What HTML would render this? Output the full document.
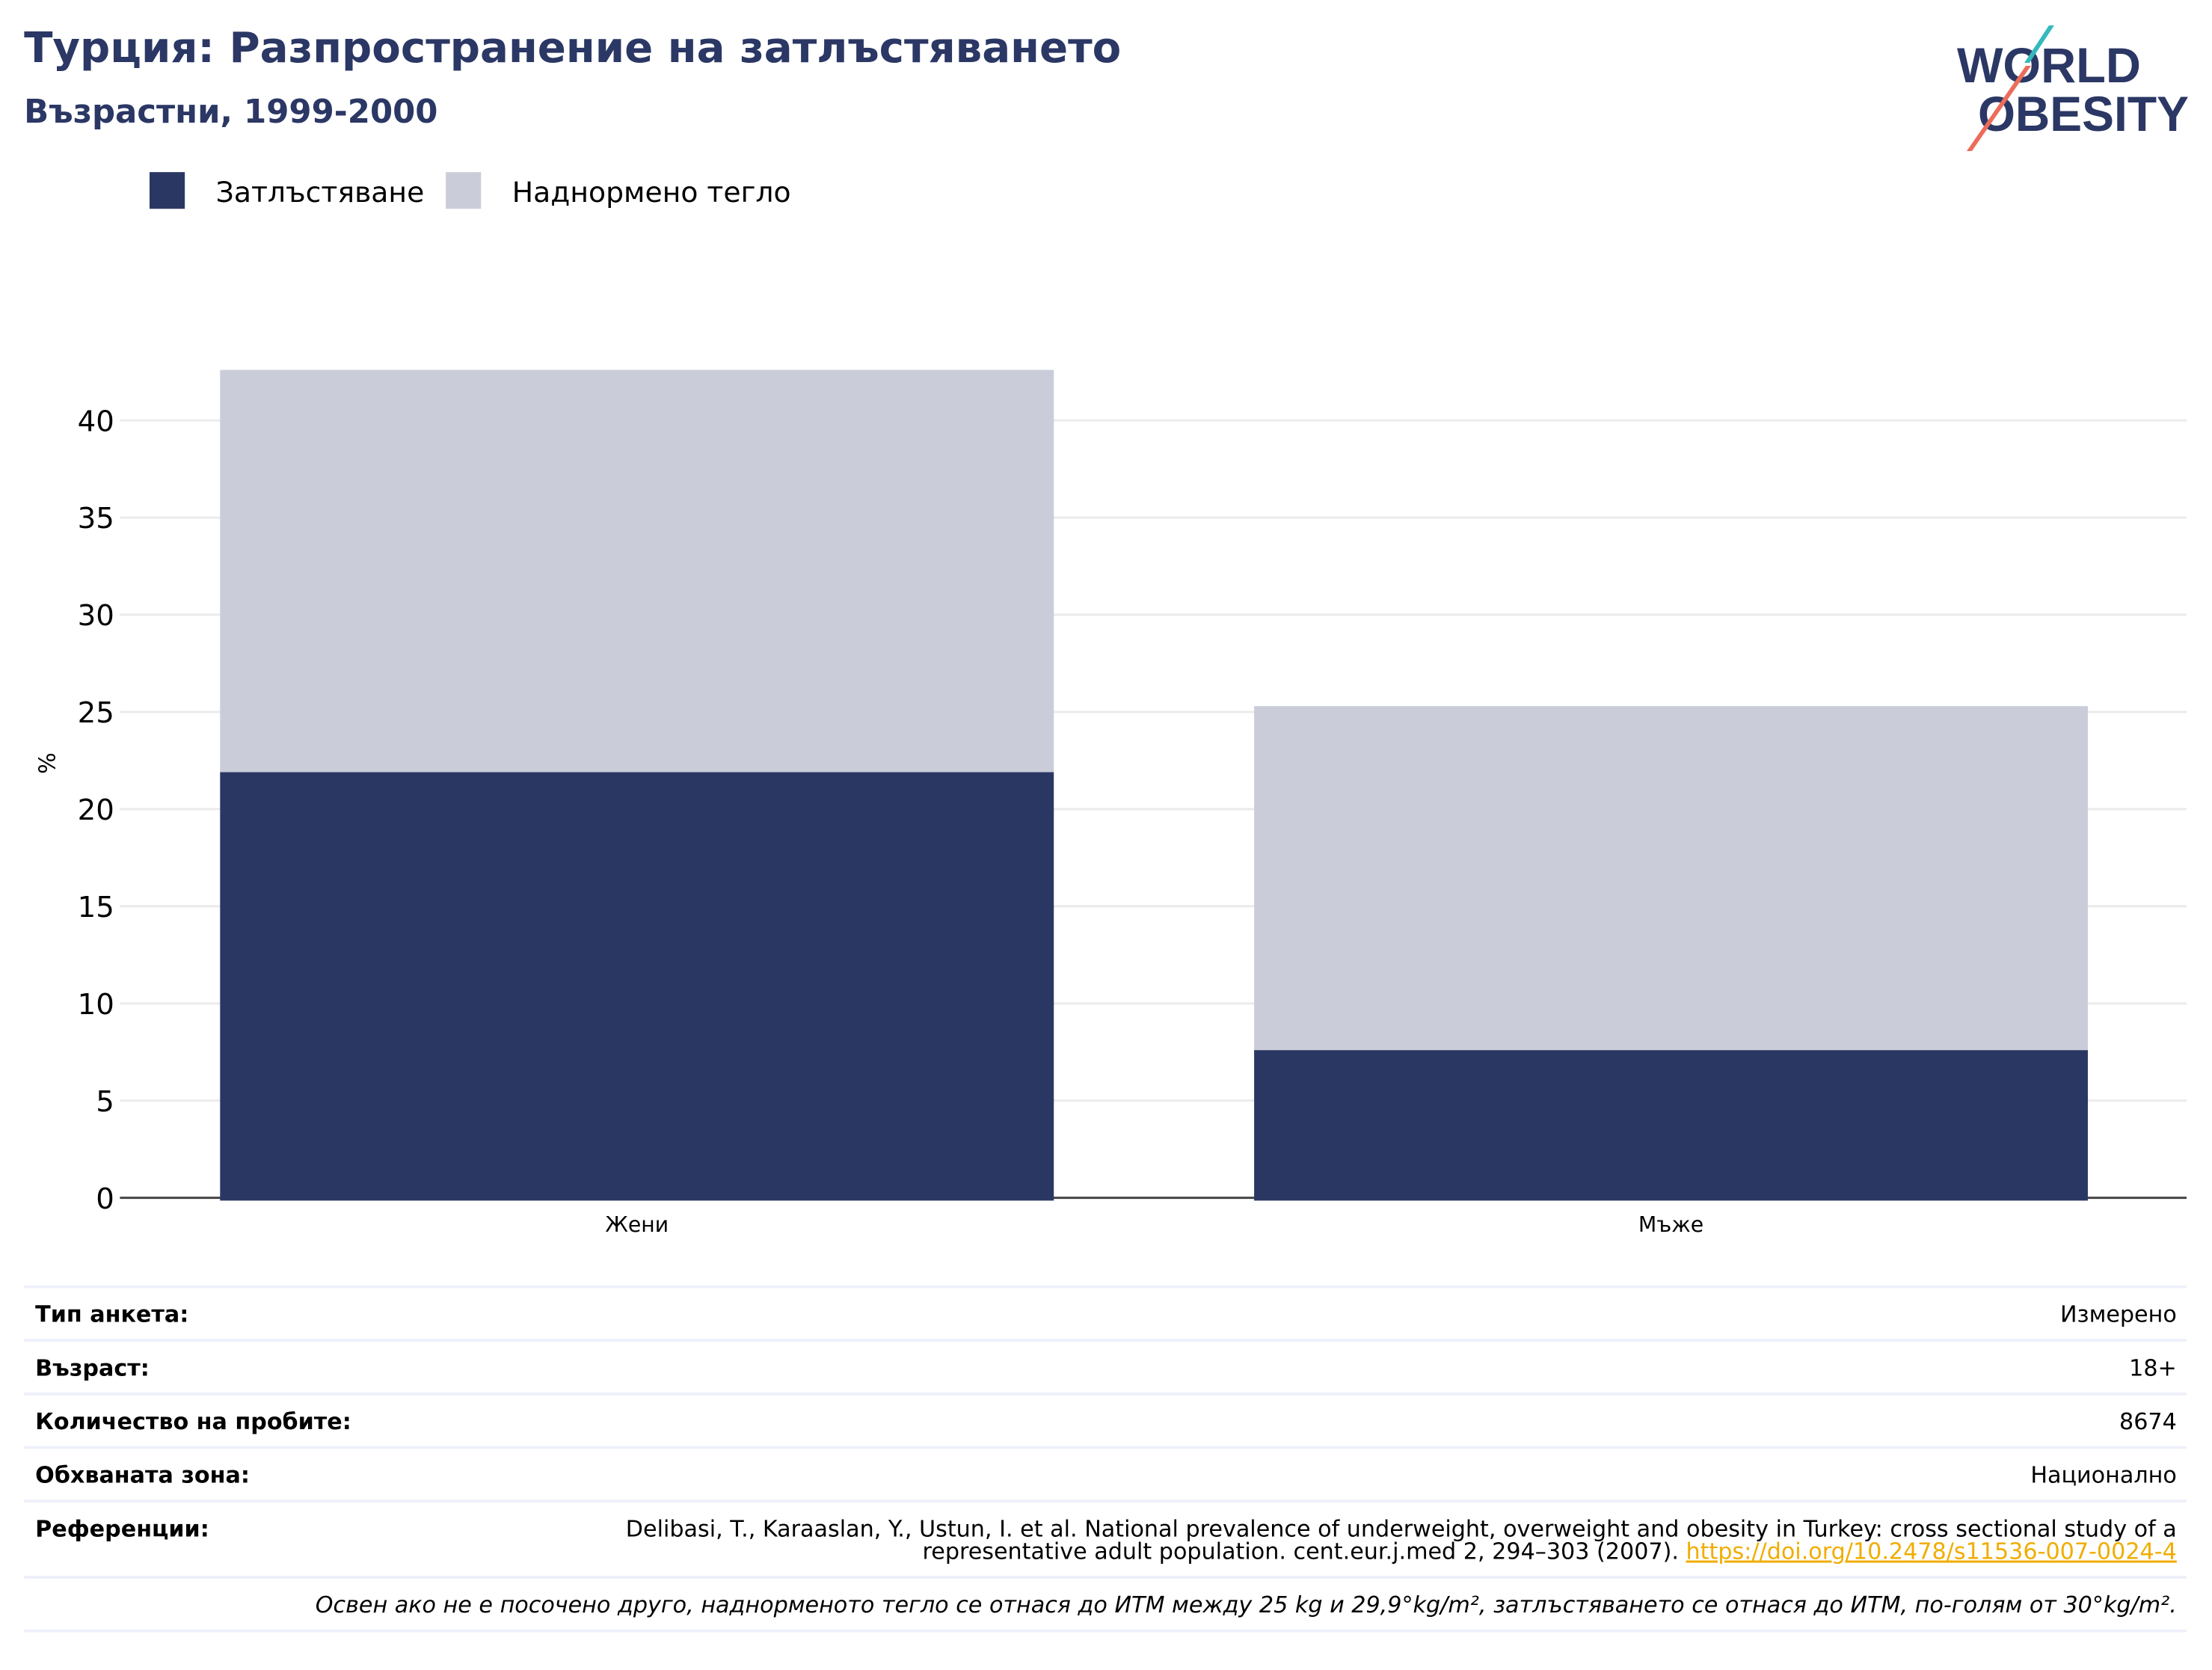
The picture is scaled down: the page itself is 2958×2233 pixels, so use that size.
<!DOCTYPE html>
<html><head><meta charset="utf-8"><style>
html,body{margin:0;padding:0;background:#fff;}
svg{display:block;font-family:"DejaVu Sans","Liberation Sans",sans-serif;}
</style></head><body>
<svg id="chart" width="2958" height="2233" viewBox="0 0 1568 1183.7" xmlns="http://www.w3.org/2000/svg">
<text x="17" y="44" font-size="29.8" font-weight="bold" fill="#2b3764">Турция: Разпространение на затлъстяването</text>
<text x="17" y="87" font-size="23" font-weight="bold" fill="#2b3764">Възрастни, 1999-2000</text>
<g transform="scale(0.53008)">
<text x="2617" y="110" font-size="66" font-weight="bold" fill="#2b3764" textLength="246" lengthAdjust="spacingAndGlyphs" font-family="Liberation Sans, sans-serif">WORLD</text>
<text x="2645" y="175" font-size="66" font-weight="bold" fill="#2b3764" textLength="282" lengthAdjust="spacingAndGlyphs" font-family="Liberation Sans, sans-serif">OBESITY</text>
<polygon points="2740,34 2747,34 2714,84 2707,84" fill="#35b9bd"/>
<polygon points="2709,88 2716,88 2637,202 2630,202" fill="#ec6c5a"/>
</g>
<g>
<rect x="106" y="122" width="25" height="26" fill="#2b3763"/>
<text x="153" y="143" font-size="20" fill="#000">Затлъстяване</text>
<rect x="316" y="122" width="25" height="26" fill="#cacdd9"/>
<text x="363" y="143" font-size="20" fill="#000">Наднормено тегло</text>
</g>
<g id="grid"></g>
<g id="bars"></g>
<g id="axes"></g>
<text transform="translate(39,541) rotate(-90)" text-anchor="middle" font-size="16" fill="#000">%</text>
<g font-size="16">
<g stroke="#eef1fa" stroke-width="2">
<line x1="17" x2="1550" y1="912" y2="912"/><line x1="17" x2="1550" y1="950" y2="950"/>
<line x1="17" x2="1550" y1="988" y2="988"/><line x1="17" x2="1550" y1="1026" y2="1026"/>
<line x1="17" x2="1550" y1="1064" y2="1064"/><line x1="17" x2="1550" y1="1118" y2="1118"/>
<line x1="17" x2="1550" y1="1156" y2="1156"/>
</g>
<text x="25" y="937" font-weight="bold">Тип анкета:</text><text x="1543" y="937" text-anchor="end">Измерено</text>
<text x="25" y="975" font-weight="bold">Възраст:</text><text x="1543" y="975" text-anchor="end">18+</text>
<text x="25" y="1013" font-weight="bold">Количество на пробите:</text><text x="1543" y="1013" text-anchor="end">8674</text>
<text x="25" y="1051" font-weight="bold">Обхваната зона:</text><text x="1543" y="1051" text-anchor="end">Национално</text>
<text x="25" y="1089" font-weight="bold">Референции:</text>
<text x="1543" y="1089" text-anchor="end">Delibasi, T., Karaaslan, Y., Ustun, I. et al. National prevalence of underweight, overweight and obesity in Turkey: cross sectional study of a</text>
<text x="1543" y="1105" text-anchor="end">representative adult population. cent.eur.j.med 2, 294–303 (2007). <tspan fill="#f0ad00" text-decoration="underline">https://doi.org/10.2478/s11536-007-0024-4</tspan></text>
<text x="1543" y="1143" text-anchor="end" font-style="italic">Освен ако не е посочено друго, наднорменото тегло се отнася до ИТМ между 25 kg и 29,9°kg/m², затлъстяването се отнася до ИТМ, по-голям от 30°kg/m².</text>
</g>
</svg>
<script>
const categories = ["Жени", "Мъже"];
const obesityValues = [21.9, 7.6];
const overweightValues = [20.7, 17.7];
const yTicks = [0, 5, 10, 15, 20, 25, 30, 35, 40];

const NS = "http://www.w3.org/2000/svg";
const y0 = 849, pxPerUnit = 13.775;
const plotL = 85, plotR = 1550;
function yScale(v){ return y0 - v * pxPerUnit; }
const bandStart = 156, bandStep = 733, barW = 591;
function xScale(i){ return bandStart + i * bandStep; }
function mk(tag, attrs, parent){
  const el = document.createElementNS(NS, tag);
  for (const k in attrs) el.setAttribute(k, attrs[k]);
  parent.appendChild(el); return el;
}
const grid = document.getElementById('grid');
const bars = document.getElementById('bars');
const axes = document.getElementById('axes');
yTicks.forEach(t => {
  if (t !== 0) {
    const g = mk('line', {x1: plotL, x2: plotR, y1: yScale(t), y2: yScale(t), stroke: '#ebebeb', 'stroke-width': 1.6}, grid);
    
    
  }
  const lb = mk('text', {x: 81, y: yScale(t) + 7.5, 'text-anchor': 'end', 'font-size': 20.5, fill: '#000'}, axes);
  lb.textContent = t;
  
  
});
categories.forEach((c, i) => {
  const x = xScale(i);
  const ob = mk('rect', {x: x, y: yScale(obesityValues[i]), width: barW, height: obesityValues[i] * pxPerUnit + 2, fill: '#2b3763'}, bars);
  
  
  const total = obesityValues[i] + overweightValues[i];
  const ov = mk('rect', {x: x, y: yScale(total), width: barW, height: overweightValues[i] * pxPerUnit, fill: '#cacdd9'}, bars);
  
  
  const lb = mk('text', {x: x + barW / 2, y: 873, 'text-anchor': 'middle', 'font-size': 15, fill: '#000'}, axes);
  lb.textContent = c;
  
  
});
const ax = mk('line', {x1: plotL, x2: plotR, y1: y0, y2: y0, stroke: '#444', 'stroke-width': 1.6}, grid);


</script>
</body></html>
